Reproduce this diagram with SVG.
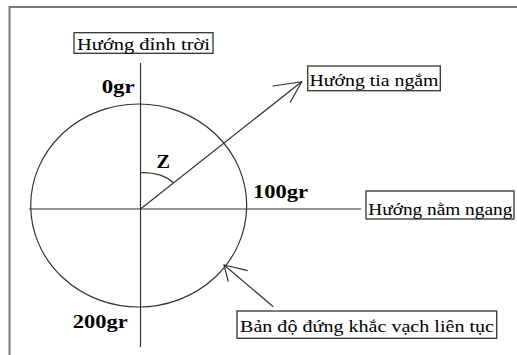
<svg xmlns="http://www.w3.org/2000/svg" width="517" height="355" viewBox="0 0 517 355">
<style>
.frame{stroke:#7a7a7a;stroke-width:2;fill:none}
.ln{stroke:#333;stroke-width:1.2;fill:none}
.box{fill:#fff;stroke:#333;stroke-width:1.3}
.lbl{font-family:"Liberation Serif","Times New Roman",serif;font-size:17px;fill:#000}
.gr{font-family:"Liberation Serif","Times New Roman",serif;font-size:19px;font-weight:bold;fill:#000}
</style>
<rect x="0" y="0" width="517" height="355" fill="#fff"/>
<path class="frame" d="M9.5,356 V7 H518"/>
<g id="circle">
<ellipse class="ln" cx="138.7" cy="205.5" rx="108" ry="101.5"/>
</g>
<g id="connectors">
<line class="ln" x1="140.5" y1="63" x2="140.5" y2="347"/>
<line class="ln" x1="29" y1="209" x2="361" y2="209" stroke="#111"/>
<line class="ln" x1="140.5" y1="209" x2="301.7" y2="81.7"/>
<path class="ln" d="M272.7,86 L301.7,81.7 L290,102.7"/>
<line class="ln" x1="273.3" y1="306.7" x2="224" y2="265"/>
<path class="ln" d="M247.7,270.7 L224,265 L228.3,281.7"/>
<path class="ln" d="M140.5,172.7 Q162,172 173.3,182.7"/>
</g>
<g id="zenith">
<rect class="box" x="74" y="32.7" width="139" height="20.6"/>
<text class="lbl" x="77" y="50" textLength="133" lengthAdjust="spacingAndGlyphs">Hướng đỉnh trời</text>
</g>
<g id="sight">
<rect class="box" x="307.7" y="66" width="132.6" height="24.7"/>
<text class="lbl" x="309.5" y="86" font-size="18" textLength="129" lengthAdjust="spacingAndGlyphs">Hướng tia ngắm</text>
</g>
<g id="horizontal">
<rect class="box" x="366" y="191" width="148" height="28"/>
<text class="lbl" x="368.3" y="215" font-size="18" textLength="144" lengthAdjust="spacingAndGlyphs">Hướng nằm ngang</text>
</g>
<g id="scale">
<rect class="box" x="237" y="311" width="259.7" height="27.3"/>
<text class="lbl" x="240" y="331.7" font-size="18" textLength="254" lengthAdjust="spacingAndGlyphs">Bản độ đứng khắc vạch liên tục</text>
</g>
<g id="g0"><text class="gr" x="101.7" y="92.7" textLength="33" lengthAdjust="spacingAndGlyphs">0gr</text></g>
<g id="g100"><text class="gr" x="253" y="198" textLength="55" lengthAdjust="spacingAndGlyphs">100gr</text></g>
<g id="g200"><text class="gr" x="72.7" y="328" textLength="55" lengthAdjust="spacingAndGlyphs">200gr</text></g>
<g id="z"><text class="gr" x="156.5" y="168.3" font-size="17" textLength="13.5" lengthAdjust="spacingAndGlyphs">Z</text></g>
</svg>
